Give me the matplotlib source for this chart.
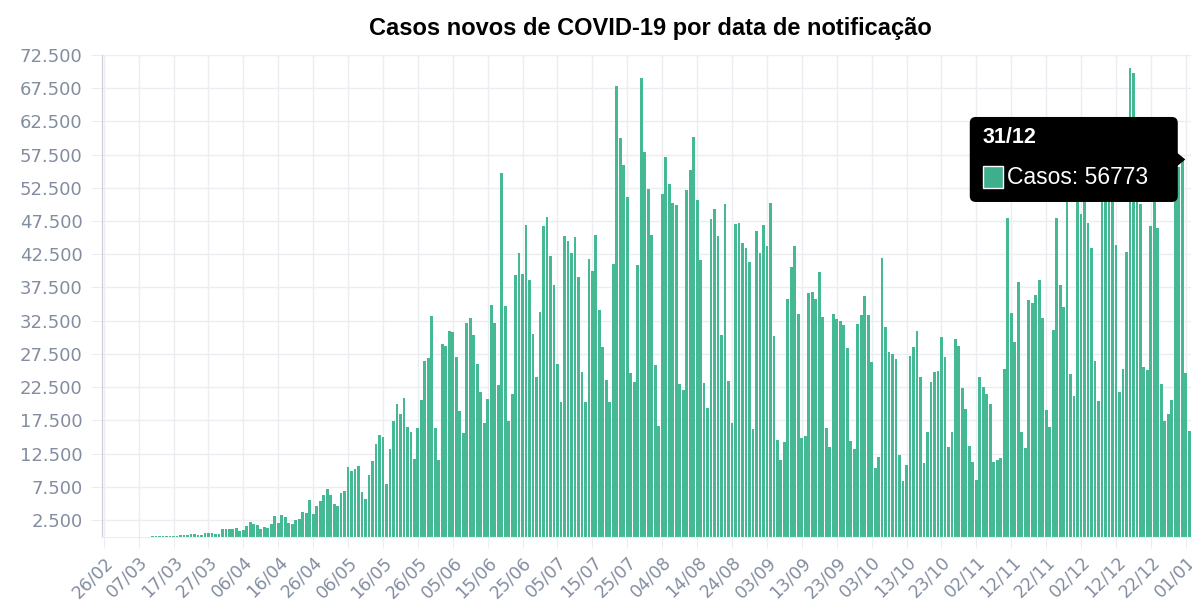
import matplotlib
matplotlib.use('Agg')
import matplotlib.pyplot as plt
import matplotlib.patches as mpatches
import matplotlib.transforms as mtransforms
import numpy as np
import pandas as pd

# casos novos por dia, de 26/02/2020 a 02/01/2021
fev = [1, 0, 0, 1]
mar = [0, 0, 0, 2, 4, 5, 6, 6, 6, 9, 18, 25, 21, 23, 79, 34, 57, 137, 193, 283,
       224, 418, 345, 310, 232, 482, 502, 487, 352, 323, 1138]
abr = [1119, 1074, 1146, 1222, 852, 926, 1661, 2210, 1930, 1781, 1089, 1442, 1261, 1832, 3058,
       2105, 3257, 2917, 2055, 1927, 2498, 2678, 3735, 3503, 5514, 3379, 4613, 5385, 6276, 7218]
mai = [6209, 4970, 4588, 6633, 6935, 10503, 9888, 10222, 10611, 6760, 5632, 9258, 11385, 13944,
       15305, 14919, 7938, 13140, 17408, 19951, 18508, 20803, 16508, 15813, 11687, 16324, 20599,
       26417, 26928, 33274, 16409]
jun = [11598, 28936, 28633, 30925, 30830, 27075, 18912, 15654, 32091, 32913, 30412, 25982, 21704,
       17110, 20647, 34918, 32188, 22765, 54771, 34666, 17459, 21432, 39436, 42725, 39483, 46860,
       38693, 30476, 24052, 33846]
jul = [46712, 48105, 42223, 37923, 26051, 20229, 45305, 44571, 42619, 45048, 39023, 24831, 20286,
       41857, 39924, 45403, 34177, 28532, 23529, 20257, 41008, 67860, 59961, 55891, 51147, 24578,
       23284, 40816, 69074, 57837, 52383]
ago = [45392, 25800, 16641, 51603, 57152, 53139, 50230, 49970, 23010, 22048, 52160, 55155, 60091,
       50644, 41576, 23101, 19373, 47784, 49298, 45323, 30355, 50032, 23421, 17078, 47134, 47161,
       44235, 43412, 41350, 16158, 45961]
set_ = [42659, 46934, 43773, 50163, 30168, 14521, 11500, 14279, 35816, 40557, 43718, 33523, 14768,
        15155, 36653, 36820, 35757, 39797, 33057, 16389, 13439, 33536, 32817, 32445, 31911, 28378,
        14318, 13155, 32058, 33413]
out = [36157, 33299, 26310, 10300, 12000, 41906, 31553, 27750, 27444, 26749, 12342, 8429, 10800,
       27235, 28523, 30914, 24062, 11090, 15783, 23227, 24818, 24858, 30026, 26979, 13493, 15726,
       29787, 28629, 22300, 19200, 13600]
nov = [11300, 8500, 24000, 22500, 21500, 20000, 11300, 11500, 11800, 25300, 48000, 33600, 29300,
       38300, 15800, 13400, 35600, 35100, 36300, 38600, 32900, 19000, 16500, 31100, 47898, 37900,
       34600, 51700, 24468, 21138]
dez = [50909, 48500, 50434, 47200, 43400, 26363, 20371, 51088, 53000, 53425, 54000, 43900, 21825,
       25193, 42889, 70574, 69826, 54000, 50000, 25500, 25019, 46696, 55202, 46500, 22967, 17341,
       18479, 20548, 58718, 55600, 56773]
jan = [24605, 15827]

casos = fev + mar + abr + mai + jun + jul + ago + set_ + out + nov + dez + jan
datas = pd.date_range('2020-02-26', periods=len(casos), freq='D')
rotulos = [d.strftime('%d/%m') for d in datas]
yticks = list(range(2500, 72501, 5000))

cor_barra = '#45b994'
cor_texto = '#838da0'
cor_grade = '#ebedf3'

fig = plt.figure(figsize=(11.92, 6.03), dpi=100)
ax = fig.add_axes([102 / 1192, (603 - 536.6) / 603, (1191 - 102) / 1192, (536.6 - 55) / 603])

x = np.arange(len(casos))
ax.bar(x, casos, width=0.8, color=cor_barra, linewidth=0, zorder=2)

ax.set_xlim(-0.5, len(casos) - 0.5)
ax.set_ylim(0, 72500)

xt = x[::10]
ax.set_xticks(xt)
ax.set_xticklabels([rotulos[i] for i in xt], rotation=45, ha='right', va='top',
                   rotation_mode='anchor')
ax.set_yticks(yticks)
ax.set_yticklabels([f'{v:,}'.replace(',', '.') for v in yticks])

ax.grid(True, color=cor_grade, lw=1, zorder=0)
ax.spines['top'].set_visible(False)
ax.spines['right'].set_visible(False)
ax.spines['left'].set_color('#c9ccd6')
ax.spines['bottom'].set_color(cor_grade)
ax.tick_params(axis='both', length=8, color=cor_grade, labelcolor=cor_texto, labelsize=13)
ax.tick_params(axis='x', labelsize=12.5, pad=4)
ax.tick_params(axis='y', pad=6)

fig.text(0.5453, 0.953, 'Casos novos de COVID-19 por data de notificação', ha='center',
         va='center', fontsize=17, fontweight='bold',
         family=['Liberation Sans Narrow', 'Liberation Sans', 'DejaVu Sans'])

# tooltip do dia 31/12
i_tt = rotulos.index('31/12')
xa, ya = ax.transData.transform((i_tt, casos[i_tt]))
ident = mtransforms.IdentityTransform()
r = 6
esq, dire, baixo, cima = xa - 212.5, xa - 4.5, ya - 42.5, ya + 42.5
caixa = mpatches.FancyBboxPatch((esq + r, baixo + r), dire - esq - 2 * r, cima - baixo - 2 * r,
                                boxstyle=f'round,pad={r}', facecolor='black', edgecolor='none',
                                transform=ident)
fig.add_artist(caixa)
seta = mpatches.Polygon([(dire - 1, ya + 7), (xa + 3, ya), (dire - 1, ya - 7)], closed=True,
                        facecolor='black', edgecolor='none', transform=ident)
fig.add_artist(seta)
quad = mpatches.Rectangle((xa - 199.5, ya - 28.6), 20, 22, facecolor='#3fae8c',
                          edgecolor='white', lw=1, transform=ident)
fig.add_artist(quad)
fig.text(xa - 199.5, ya + 22.4, '31/12', transform=ident, ha='left', va='center', color='white',
         fontsize=15.5, fontweight='bold', family=['Liberation Sans', 'DejaVu Sans'])
fig.text(xa - 175, ya - 17.6, f'Casos: {casos[i_tt]}', transform=ident, ha='left', va='center',
         color='white', fontsize=16.5, family=['Liberation Sans', 'DejaVu Sans'])

fig.savefig('out.png', dpi=100)
